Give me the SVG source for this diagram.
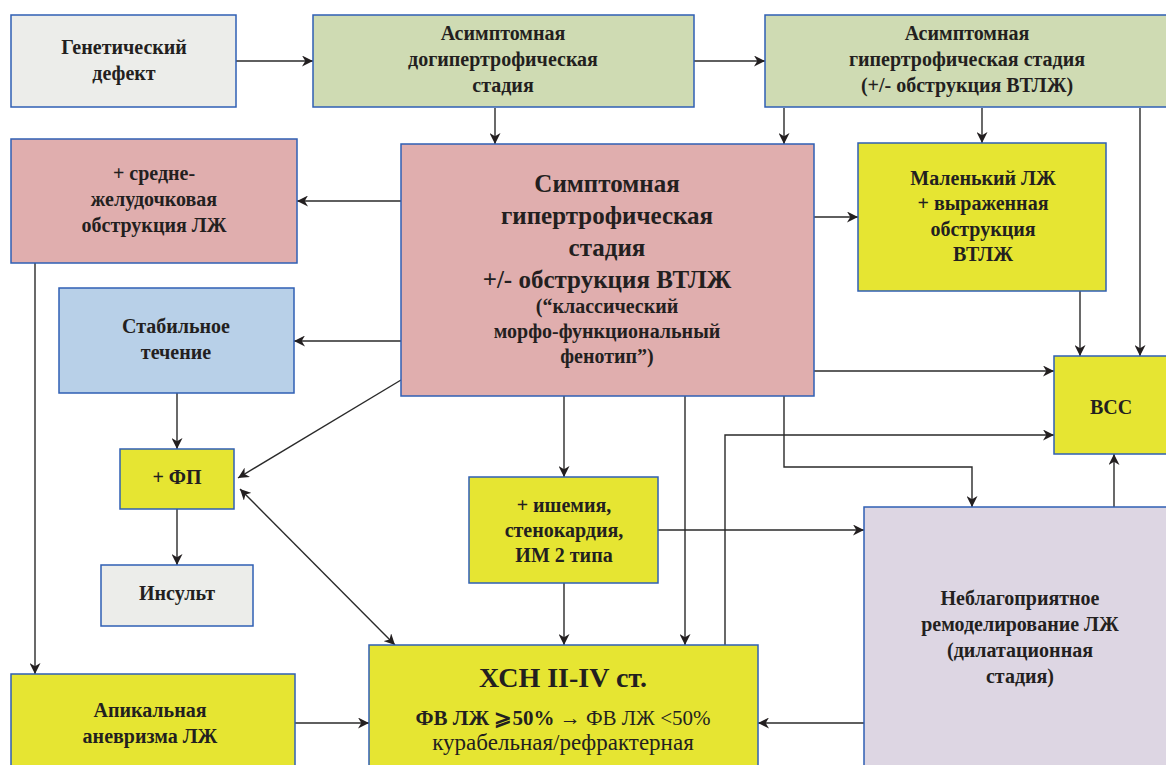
<svg xmlns="http://www.w3.org/2000/svg" width="1166" height="765" viewBox="0 0 1166 765">
<style>
.box{stroke:#2f5fb4;stroke-width:1.5}
.gray{fill:#ecedea}.green{fill:#cfdbb3}.pink{fill:#e0aeae}.blue{fill:#b8d0e8}.yellow{fill:#e6e532}.lav{fill:#ddd6e3}
text{font-family:'Liberation Serif','DejaVu Serif',serif;font-weight:bold;fill:#231f20;text-anchor:middle;font-size:20px}
.big{font-size:25px}
.xl{font-size:28px}
.mid{font-size:21px}
.cur{font-size:23px}
.norm{font-weight:normal}
.c{fill:none;stroke:#2a2a2a;stroke-width:1.4}
</style>
<defs>
<marker id="a" viewBox="0 0 10 10" refX="10" refY="5" markerWidth="11" markerHeight="11" markerUnits="userSpaceOnUse" orient="auto-start-reverse">
<path d="M0,0 L10,5 L0,10 L3,5 z" fill="#231f20"/>
</marker>
</defs>
<rect width="1166" height="765" fill="#ffffff"/>
<g id="connectors">
<path class="c" d="M236,61 H313" marker-end="url(#a)"/>
<path class="c" d="M694,61 H765" marker-end="url(#a)"/>
<path class="c" d="M495,108 V144" marker-end="url(#a)"/>
<path class="c" d="M784,108 V144" marker-end="url(#a)"/>
<path class="c" d="M982,108 V143" marker-end="url(#a)"/>
<path class="c" d="M1140,108 V356" marker-end="url(#a)"/>
<path class="c" d="M401,201 H297" marker-end="url(#a)"/>
<path class="c" d="M814,217 H858" marker-end="url(#a)"/>
<path class="c" d="M401,341 H294" marker-end="url(#a)"/>
<path class="c" d="M401,380 L238,478" marker-end="url(#a)"/>
<path class="c" d="M814,371 H1054" marker-end="url(#a)"/>
<path class="c" d="M1080,291 V356" marker-end="url(#a)"/>
<path class="c" d="M177,393 V449" marker-end="url(#a)"/>
<path class="c" d="M177,509 V565" marker-end="url(#a)"/>
<path class="c" d="M35,263 V674" marker-end="url(#a)"/>
<path class="c" d="M564,396 V477" marker-end="url(#a)"/>
<path class="c" d="M685,396 V645" marker-end="url(#a)"/>
<path class="c" d="M784,396 V467 H972 V507" marker-end="url(#a)"/>
<path class="c" d="M658,530 H864" marker-end="url(#a)"/>
<path class="c" d="M564,583 V645" marker-end="url(#a)"/>
<path class="c" d="M725,645 V435 H1054" marker-end="url(#a)"/>
<path class="c" d="M1114,507 V454" marker-end="url(#a)"/>
<path class="c" d="M240,489 L395,645" marker-start="url(#a)" marker-end="url(#a)"/>
<path class="c" d="M295,723 H369" marker-end="url(#a)"/>
<path class="c" d="M864,723 H758" marker-end="url(#a)"/>
</g>
<g id="genetic">
<rect class="box gray" x="11" y="15" width="225" height="92"/>
<text x="124" y="54">Генетический</text>
<text x="124" y="80">дефект</text>
</g>
<g id="pre-hypertrophic">
<rect class="box green" x="313" y="15" width="381" height="92"/>
<text x="503" y="40">Асимптомная</text>
<text x="503" y="66">догипертрофическая</text>
<text x="503" y="92">стадия</text>
</g>
<g id="asymptomatic-hypertrophic">
<rect class="box green" x="765" y="15" width="410" height="92"/>
<text x="967" y="40">Асимптомная</text>
<text x="967" y="66">гипертрофическая стадия</text>
<text x="967" y="92">(+/- обструкция ВТЛЖ)</text>
</g>
<g id="midventricular">
<rect class="box pink" x="11" y="139" width="286" height="124"/>
<text x="154" y="180">+ средне-</text>
<text x="154" y="206">желудочковая</text>
<text x="154" y="232">обструкция ЛЖ</text>
</g>
<g id="stable">
<rect class="box blue" x="59" y="288" width="235" height="105"/>
<text x="176" y="333">Стабильное</text>
<text x="176" y="359">течение</text>
</g>
<g id="symptomatic">
<rect class="box pink" x="401" y="144" width="413" height="252"/>
<text class="big" x="607" y="192">Симптомная</text>
<text class="big" x="607" y="224">гипертрофическая</text>
<text class="big" x="607" y="256">стадия</text>
<text class="big" x="607" y="288">+/- обструкция ВТЛЖ</text>
<text x="607" y="313">(“классический</text>
<text x="607" y="338">морфо-функциональный</text>
<text x="607" y="363">фенотип”)</text>
</g>
<g id="small-lv">
<rect class="box yellow" x="858" y="143" width="248" height="148"/>
<text x="983" y="185">Маленький ЛЖ</text>
<text x="983" y="210">+ выраженная</text>
<text x="983" y="236">обструкция</text>
<text x="983" y="261">ВТЛЖ</text>
</g>
<g id="scd">
<rect class="box yellow" x="1054" y="356" width="120" height="98"/>
<text x="1111" y="414">ВСС</text>
</g>
<g id="af">
<rect class="box yellow" x="120" y="449" width="114" height="60"/>
<text x="177" y="484">+ ФП</text>
</g>
<g id="stroke">
<rect class="box gray" x="101" y="565" width="152" height="61"/>
<text x="177" y="600">Инсульт</text>
</g>
<g id="ischemia">
<rect class="box yellow" x="469" y="477" width="189" height="106"/>
<text x="564" y="512">+ ишемия,</text>
<text x="564" y="537">стенокардия,</text>
<text x="564" y="562">ИМ 2 типа</text>
</g>
<g id="remodeling">
<rect class="box lav" x="864" y="507" width="310" height="270"/>
<text x="1020" y="605">Неблагоприятное</text>
<text x="1020" y="631">ремоделирование ЛЖ</text>
<text x="1020" y="657">(дилатационная</text>
<text x="1020" y="683">стадия)</text>
</g>
<g id="apical">
<rect class="box yellow" x="11" y="674" width="284" height="100"/>
<text x="150" y="717">Апикальная</text>
<text x="150" y="743">аневризма ЛЖ</text>
</g>
<g id="chf">
<rect class="box yellow" x="369" y="645" width="389" height="130"/>
<text class="xl" x="563" y="687">ХСН II-IV ст.</text>
<text class="mid" x="563" y="725">ФВ ЛЖ ⩾50% <tspan class="norm">→ ФВ ЛЖ &lt;50%</tspan></text>
<text class="cur norm" x="563" y="750">курабельная/рефрактерная</text>
</g>
</svg>
